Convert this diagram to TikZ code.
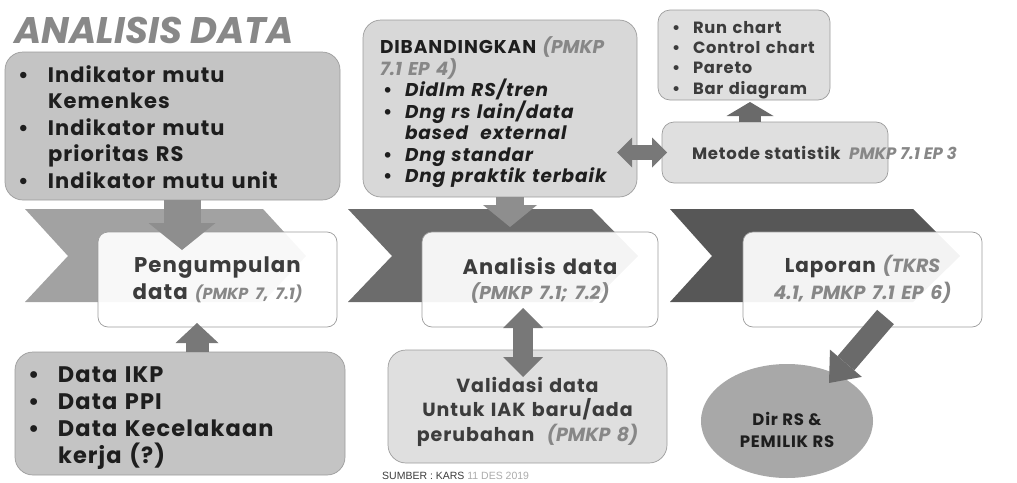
\documentclass[tikz,border=0pt]{standalone}
\usepackage{fontspec}
\setmainfont{Poppins}[LetterSpace=5]
\newfontfamily\plainfont{Poppins}
\newfontfamily\srcfont{Liberation Sans}
\usetikzlibrary{arrows.meta,calc,shapes.geometric}

\definecolor{titlegray}{HTML}{888888}
\definecolor{panelA}{HTML}{C4C4C4}
\definecolor{panelB}{HTML}{D8D8D8}
\definecolor{panelC}{HTML}{DFDFDF}
\definecolor{panelline}{HTML}{9C9C9C}
\definecolor{chevA}{HTML}{A2A2A2}
\definecolor{chevB}{HTML}{6C6C6C}
\definecolor{chevC}{HTML}{575757}
\definecolor{ink}{HTML}{1E1E1E}
\definecolor{inkmid}{HTML}{3C3C3C}
\definecolor{refgray}{HTML}{878787}
\definecolor{arrowA}{HTML}{8E8E8E}
\definecolor{arrowB}{HTML}{787878}
\definecolor{arrowC}{HTML}{6A6A6A}
\definecolor{ovalfill}{HTML}{A8A8A8}

\newcommand\bul[1]{\makebox[#1][l]{\textbullet}}
\newcommand\refx[1]{\textcolor{refgray}{\plainfont\bfseries\itshape #1}}
\newcommand\lift[1]{\rule{0pt}{#1}}

\begin{document}
\begin{tikzpicture}[x=1pt,y=-1pt,
  panel/.style={draw=panelline, line width=0.7pt, rounded corners=18pt,
    anchor=north west, outer sep=0pt},
  stage/.style={draw=panelline, line width=0.7pt, rounded corners=10pt,
    fill=white, fill opacity=0.93, text opacity=1, anchor=north west,
    outer sep=0pt, align=center, text=inkmid},
  fat/.style={line width=#1, line cap=butt}
]
\useasboundingbox (0,0) rectangle (1017,482);

% process chevrons
\fill[chevA] (25,209) -- (263,209) -- (306,256) -- (263,302) -- (25,302) -- (68,256) -- cycle;
\fill[chevB] (348,209) -- (592,209) -- (638,256) -- (592,302) -- (348,302) -- (392,256) -- cycle;
\fill[chevC] (670,209) -- (913,209) -- (960,256) -- (913,302) -- (670,302) -- (712,256) -- cycle;

% heading
\node[anchor=west, inner sep=0pt, text=titlegray] (title) at (14,30)
  {\plainfont\fontsize{37}{40}\selectfont\bfseries\itshape ANALISIS DATA};

% indicator sources
\node[panel, fill=panelA, minimum width=335pt, minimum height=148pt,
  inner xsep=13pt, inner ysep=0pt, text width=309pt, align=left, text=ink,
  font=\fontsize{21}{26.5}\selectfont\bfseries] (box1) at (5,52)
  {\lift{19pt}\bul{30pt}Indikator mutu\\
   \hspace*{30pt}Kemenkes\\
   \bul{30pt}Indikator mutu\\
   \hspace*{30pt}prioritas RS\\
   \bul{30pt}Indikator mutu unit};

% comparison panel
\node[panel, fill=panelB, minimum width=274pt, minimum height=177pt,
  inner xsep=17pt, inner ysep=0pt, text width=240pt, align=left, text=ink,
  font=\fontsize{18.5}{21.5}\selectfont\bfseries] (dib) at (363,20)
  {\lift{25pt}DIBANDINGKAN\ \refx{(PMKP}\\
   \refx{7.1 EP 4)}\\
   \hspace*{3pt}\bul{22pt}{\itshape Didlm RS/tren}\\
   \hspace*{3pt}\bul{22pt}{\itshape Dng rs lain/data}\\
   \hspace*{25pt}{\itshape based\ \ external}\\
   \hspace*{3pt}\bul{22pt}{\itshape Dng standar}\\
   \hspace*{3pt}\bul{22pt}{\itshape Dng praktik terbaik}};

% chart types
\node[panel, rounded corners=12pt, fill=panelC, minimum width=172pt, minimum height=90pt,
  inner xsep=14pt, inner ysep=0pt, text width=144pt, align=left, text=inkmid,
  font=\fontsize{16.3}{20.3}\selectfont\bfseries] (run) at (658,10)
  {\lift{22pt}\bul{21pt}Run chart\\
   \bul{21pt}Control chart\\
   \bul{21pt}Pareto\\
   \bul{21pt}Bar diagram};

% statistical method
\node[panel, rounded corners=12pt, fill=panelC, minimum width=226pt, minimum height=61pt,
  inner xsep=30pt, inner ysep=0pt, text=inkmid,
  font=\fontsize{16.5}{20}\selectfont\bfseries] (met) at (662,122)
  {\makebox[166pt][l]{\rlap{Metode statistik\ \ \refx{PMKP 7.1 EP 3}}}};

% data sources
\node[panel, fill=panelA, minimum width=330pt, minimum height=123pt,
  inner xsep=13pt, inner ysep=0pt, text width=304pt, align=left, text=ink,
  font=\fontsize{22.5}{27}\selectfont\bfseries] (ikp) at (15,352)
  {\lift{24pt}\bul{30pt}Data IKP\\
   \bul{30pt}Data PPI\\
   \bul{30pt}Data Kecelakaan\\
   \hspace*{30pt}kerja (?)};

% validation
\node[panel, fill=panelC, minimum width=279pt, minimum height=113pt,
  inner xsep=10pt, inner ysep=0pt, text width=259pt, align=center, text=inkmid,
  font=\fontsize{19}{24.5}\selectfont\bfseries] (val) at (388,350)
  {\lift{26pt}Validasi data\\
   Untuk IAK baru/ada\\
   perubahan\ \ \refx{(PMKP 8)}};

% the three stages
\node[stage, minimum width=239pt, minimum height=95pt, text width=225pt,
  font=\fontsize{21.3}{27}\selectfont\bfseries] (peng) at (98,232)
  {Pengumpulan\\
   data {\fontsize{16}{27}\selectfont\refx{(PMKP 7, 7.1)}}};
\node[stage, minimum width=236pt, minimum height=95pt, text width=222pt,
  font=\fontsize{21}{25}\selectfont\bfseries] (ana) at (422,232)
  {\lift{19pt}Analisis data\\
   {\fontsize{18.5}{25}\selectfont\refx{(PMKP 7.1; 7.2)}}};
\node[stage, minimum width=239pt, minimum height=95pt, text width=225pt,
  font=\fontsize{20}{27}\selectfont\bfseries] (lap) at (743,232)
  {Laporan {\fontsize{19}{27}\selectfont\refx{(TKRS}}\\
   {\fontsize{19}{27}\selectfont\refx{4.1, PMKP 7.1 EP 6)}}};

% recipients
\node[ellipse, fill=ovalfill, minimum width=172pt, minimum height=114pt,
  inner sep=0pt, align=center, text=ink,
  font=\fontsize{16.5}{22}\selectfont\bfseries] (boss) at (787,421)
  {\lift{32pt}Dir RS \&\\ PEMILIK RS};

% source line
\node[anchor=base west, inner sep=0pt] (src) at (382,479.5)
  {\srcfont\fontsize{10.5}{12}\selectfont\textcolor{inkmid}{SUMBER : KARS}
   \textcolor{refgray!70}{11 DES 2019}};

% block arrows
\draw[arrowA, fat=37pt, -{Triangle[width=67pt,length=27pt,line width=0pt]}]
  ($(box1.south)+(9.5,0)$) -- ($(peng.north)+(-35.5,18)$);
\draw[arrowB, fat=23pt, -{Triangle[width=43pt,length=20pt,line width=0pt]}]
  ($(ikp.north)+(17,0)$) -- ($(peng.south)+(-20.5,-4)$);
\draw[arrowA, fat=28pt, -{Triangle[width=54pt,length=22pt,line width=0pt]}]
  ($(dib.south)+(10,0)$) -- ($(ana.north)+(-30,-5)$);
\draw[arrowB, fat=15pt, {Triangle[width=30pt,length=15pt,line width=0pt]}-{Triangle[width=30pt,length=15pt,line width=0pt]}]
  ($(dib.east |- met.west)+(-20,0)$) -- ($(met.west)+(5,0)$);
\draw[arrowB, fat=20pt, {Triangle[width=40pt,length=20pt,line width=0pt]}-{Triangle[width=40pt,length=20pt,line width=0pt]}]
  ($(ana.south)+(-17,-19)$) -- ($(val.north)+(-4.5,27)$);
\draw[arrowC, fat=22pt, -{Triangle[width=47pt,length=14pt,line width=0pt]}]
  ($(met.north)+(-25,0)$) -- ($(run.south)+(6,2)$);
\draw[arrowC, fat=22pt, -{Triangle[width=42pt,length=26pt,line width=0pt]}]
  ($(lap.south)+(23,-10)$) -- ($(boss)+(42,-38)$);
\end{tikzpicture}
\end{document}
